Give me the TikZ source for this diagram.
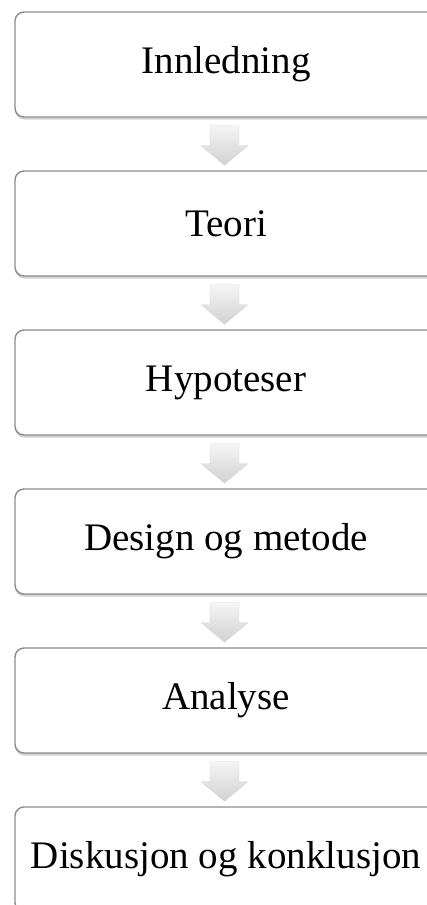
\documentclass[tikz,border=0pt]{standalone}
\usepackage{fontspec}
\setmainfont{Liberation Serif}
\usetikzlibrary{calc,shadows}

\definecolor{boxline}{RGB}{140,140,140}
\tikzset{
  stepbox/.style = {draw = boxline, line width = 1.4pt, fill = white,
    rounded corners = 9pt, minimum width = 422pt, minimum height = 105pt,
    inner sep = 0pt, font = \fontsize{39}{45}\selectfont,
    drop shadow = {shadow xshift = 0pt, shadow yshift = -2.5pt, opacity = 0.35}},
  flowarrow/.style = {top color = white!96!black, bottom color = white!82!black,
    draw = white!85!black, line width = 0.4pt}
}

\begin{document}
\begin{tikzpicture} [x = 1pt, y = -1pt]
\useasboundingbox (0.0, 0.0) rectangle (427.0, 905.0);
\node[stepbox] (innl) at (226.0, 64.5){Innledning};
\node[stepbox] (teori) at (226.0, 223.5){Teori};
\node[stepbox] (hypo) at (226.0, 382.5){Hypoteser};
\node[stepbox] (design) at (226.0, 541.5){Design og metode};
\node[stepbox] (analyse) at (226.0, 700.5){Analyse};
\node[stepbox] (disk) at (226.0, 859.5){Diskusjon og konklusjon};
\foreach \a/\b in {innl/teori, teori/hypo, hypo/design, design/analyse, analyse/disk}
{
\shade[flowarrow] ($(\a.south)+(-16.0,8.0)$) -- ($(\a.south)+(13.0,8.0)$)
  -- ($(\a.south)+(13.0,28.0)$) -- ($(\a.south)+(22.0,28.0)$)
  -- ($(\b.north)+(-1.5,-5.0)$) -- ($(\a.south)+(-25.0,28.0)$)
  -- ($(\a.south)+(-16.0,28.0)$) -- cycle;
}
\end{tikzpicture}
\end{document}
